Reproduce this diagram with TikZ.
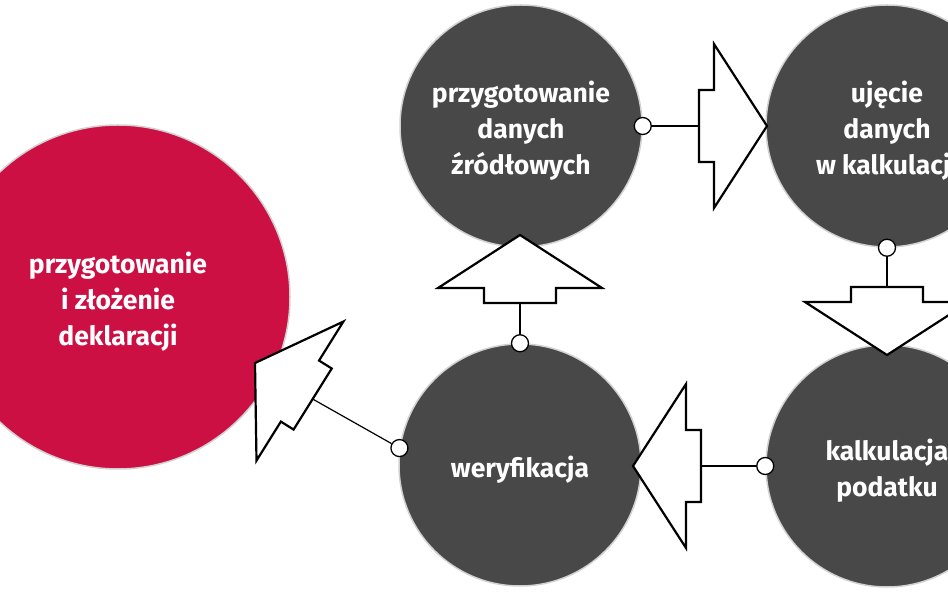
\documentclass[tikz,border=0pt]{standalone}
\usepackage{fontspec}
\setmainfont{Fira Sans}
\definecolor{redc}{RGB}{204,16,68}
\definecolor{grayc}{RGB}{72,72,72}
\tikzset{
  bigcirc/.style={circle, draw=black!18, line width=1.5pt, fill=grayc, minimum size=242pt,
    inner sep=0pt},
  txt/.style={text=white, font=\fontsize{26.5}{36}\selectfont\bfseries, align=center, yshift=-5pt},
  dot/.style={circle, draw=black, line width=1.3pt, fill=white, minimum size=17pt, inner sep=0pt},
  link/.style={draw=black, line width=1.2pt},
  bigarrow/.pic={
    \draw[line width=2.2pt, fill=white, line join=miter]
      (0,0) -- (-53,-82) -- (-53,-36) -- (-68,-36) -- (-68,36) -- (-53,36) -- (-53,82) -- cycle;
    \coordinate (-back) at (-68,0);
  }
}
\begin{document}
\begin{tikzpicture}[x=1pt,y=-1pt]
\useasboundingbox (0,0) rectangle (948,593);
\clip (0,0) rectangle (948,593);
\fill[white] (0,0) rectangle (948,593);
% big circles
\node[bigcirc, fill=redc, minimum size=344pt, label={[txt]center:{przygotowanie\\i złożenie\\deklaracji}}] (red) at (118,297) {};
\node[bigcirc, label={[txt]center:{przygotowanie\\danych\\źródłowych}}] (c1) at (521,126) {};
\node[bigcirc, label={[txt]center:{ujęcie\\danych\\w kalkulacji}}] (c2) at (887,126) {};
\node[bigcirc, label={[txt]center:{kalkulacja\\podatku}}] (c3) at (887,466) {};
\node[bigcirc, label={[txt]center:{weryfikacja}}] (c4) at (520,465) {};
% small connector dots
\node[dot] (s1) at (c1.east) {};
\node[dot] (s2) at (c2.south) {};
\node[dot] (s3) at (c3.west) {};
\node[dot] (s4) at (c4.north) {};
\node[dot] (s5) at (c4.172) {};
% big arrows
\pic (a1) at (767,126) {bigarrow};
\pic[rotate=-90] (a2) at (887,355) {bigarrow};
\pic[rotate=180] (a3) at (633,466) {bigarrow};
\pic[rotate=90] (a4) at (520,235) {bigarrow};
\pic[rotate=148] (a5) at (255,363) {bigarrow};
% connectors
\draw[link] (s1) -- (a1-back);
\draw[link] (s2) -- (a2-back);
\draw[link] (s3) -- (a3-back);
\draw[link] (s4) -- (a4-back);
\draw[link] (s5) -- (a5-back);
\end{tikzpicture}
\end{document}
